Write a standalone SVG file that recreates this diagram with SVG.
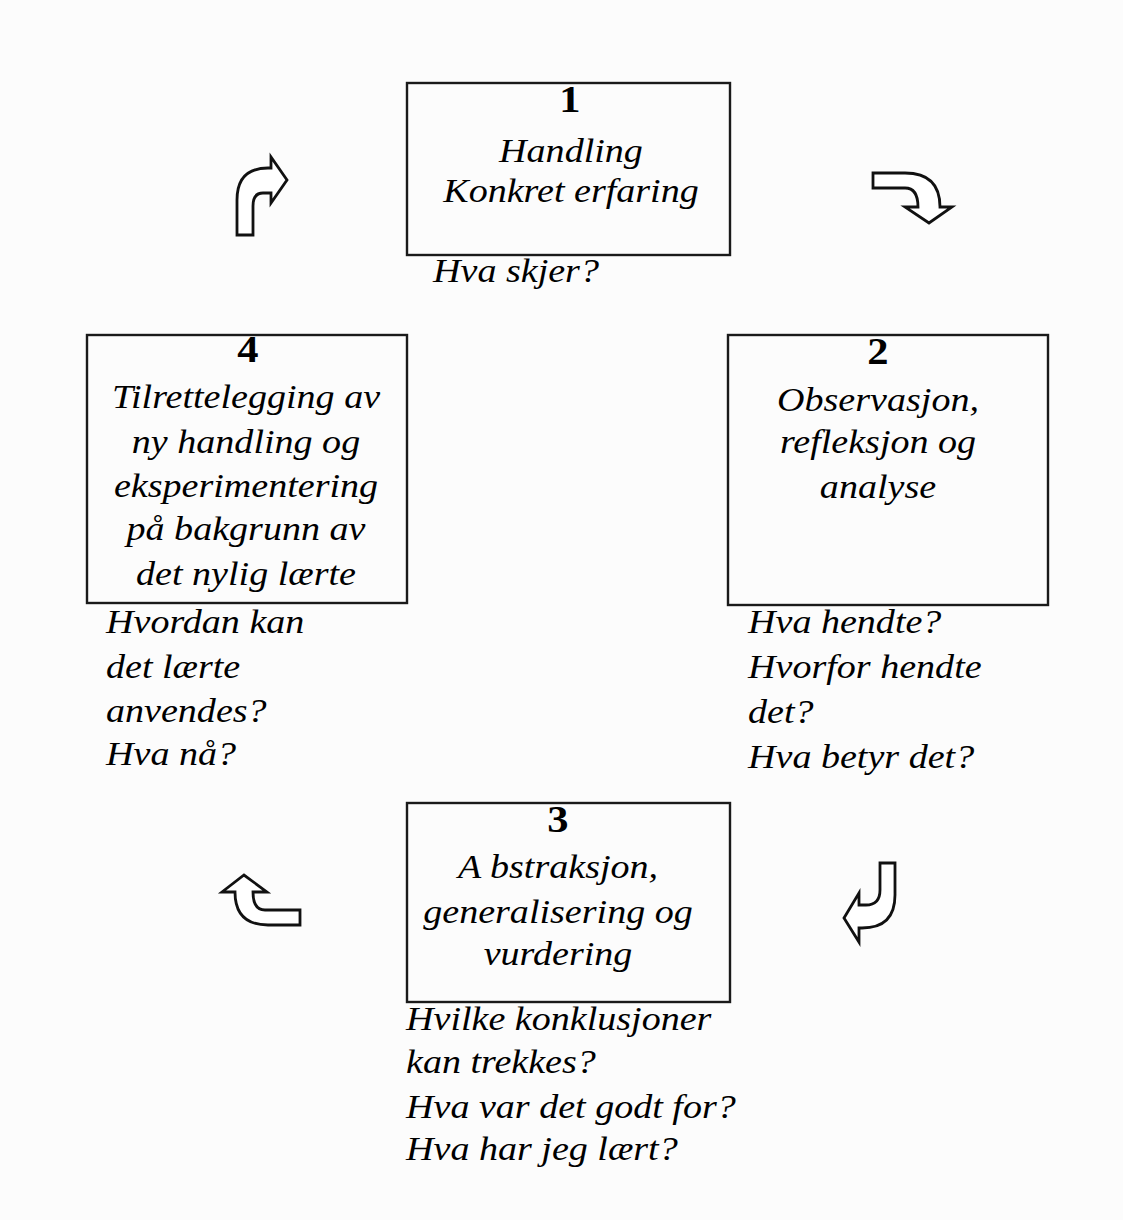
<svg xmlns="http://www.w3.org/2000/svg" width="1123" height="1220" viewBox="0 0 1123 1220">
<style>
.box{fill:none;stroke:#1a1a1a;stroke-width:2.4}
.arr{fill:#fff;stroke:#111;stroke-width:2.8;stroke-linejoin:miter}
.num{font-family:"Liberation Serif","Times New Roman",serif;font-weight:bold;font-size:38px;fill:#000;text-anchor:middle}
.lbl{font-family:"Liberation Serif","Times New Roman",serif;font-style:italic;font-size:34px;fill:#000;text-anchor:middle}
.q{font-family:"Liberation Serif","Times New Roman",serif;font-style:italic;font-size:34px;fill:#000;text-anchor:start}
</style>
<rect x="0" y="0" width="1123" height="1220" fill="#fcfcfc"/>
<g id="node1">
<rect class="box" x="407" y="83" width="323" height="172"/>
<text class="num" transform="translate(570 0) scale(1.12 1)" x="0" y="112">1</text>
<text class="lbl" transform="translate(571 0) scale(1.12 1)"><tspan x="0" y="162">Handling</tspan><tspan x="0" y="202">Konkret erfaring</tspan></text>
<text class="q" transform="translate(433 0) scale(1.12 1)" x="0" y="282">Hva skjer?</text>
</g>
<g id="node2">
<rect class="box" x="728" y="335" width="320" height="270"/>
<text class="num" transform="translate(878 0) scale(1.12 1)" x="0" y="364">2</text>
<text class="lbl" transform="translate(878 0) scale(1.12 1)"><tspan x="0" y="411">Observasjon,</tspan><tspan x="0" y="453">refleksjon og</tspan><tspan x="0" y="498">analyse</tspan></text>
<text class="q" transform="translate(748 0) scale(1.12 1)"><tspan x="0" y="633">Hva hendte?</tspan><tspan x="0" y="678">Hvorfor hendte</tspan><tspan x="0" y="723">det?</tspan><tspan x="0" y="768">Hva betyr det?</tspan></text>
</g>
<g id="node3">
<rect class="box" x="407" y="803" width="323" height="199"/>
<text class="num" transform="translate(558 0) scale(1.12 1)" x="0" y="832">3</text>
<text class="lbl" transform="translate(558 0) scale(1.12 1)"><tspan x="0" y="878">A bstraksjon,</tspan><tspan x="0" y="923">generalisering og</tspan><tspan x="0" y="965">vurdering</tspan></text>
<text class="q" transform="translate(406 0) scale(1.12 1)"><tspan x="0" y="1030">Hvilke konklusjoner</tspan><tspan x="0" y="1073">kan trekkes?</tspan><tspan x="0" y="1118">Hva var det godt for?</tspan><tspan x="0" y="1160">Hva har jeg lært?</tspan></text>
</g>
<g id="node4">
<rect class="box" x="87" y="335" width="320" height="268"/>
<text class="num" transform="translate(248 0) scale(1.12 1)" x="0" y="362">4</text>
<text class="lbl" transform="translate(246 0) scale(1.12 1)"><tspan x="0" y="408">Tilrettelegging av</tspan><tspan x="0" y="453">ny handling og</tspan><tspan x="0" y="497">eksperimentering</tspan><tspan x="0" y="540">på bakgrunn av</tspan><tspan x="0" y="585">det nylig lærte</tspan></text>
<text class="q" transform="translate(106 0) scale(1.12 1)"><tspan x="0" y="633">Hvordan kan</tspan><tspan x="0" y="678">det lærte</tspan><tspan x="0" y="722">anvendes?</tspan><tspan x="0" y="765">Hva nå?</tspan></text>
</g>
<g id="connectors">
<path class="arr" d="M237,235 L237,200 Q237,168 268,168 L271,168 L271,157 L287,180 L271,203 L271,193 L263,193 Q253,193 253,206 L253,235 Z"/>
<path class="arr" d="M873,173 L905,173 Q940,173 940,207 L952,207 L929,223 L905,207 L918,207 Q918,188 905,188 L873,188 Z"/>
<path class="arr" d="M880,863 L895,863 L895,895 Q895,928 862,928 L859,928 L859,942 L844,918 L859,893 L859,905 L866,905 Q880,905 880,890 Z"/>
<path class="arr" d="M300,910 L265,910 Q253,910 253,892 L267,892 L244,875 L222,892 L235,892 Q235,925 268,925 L300,925 Z"/>
</g>
</svg>
